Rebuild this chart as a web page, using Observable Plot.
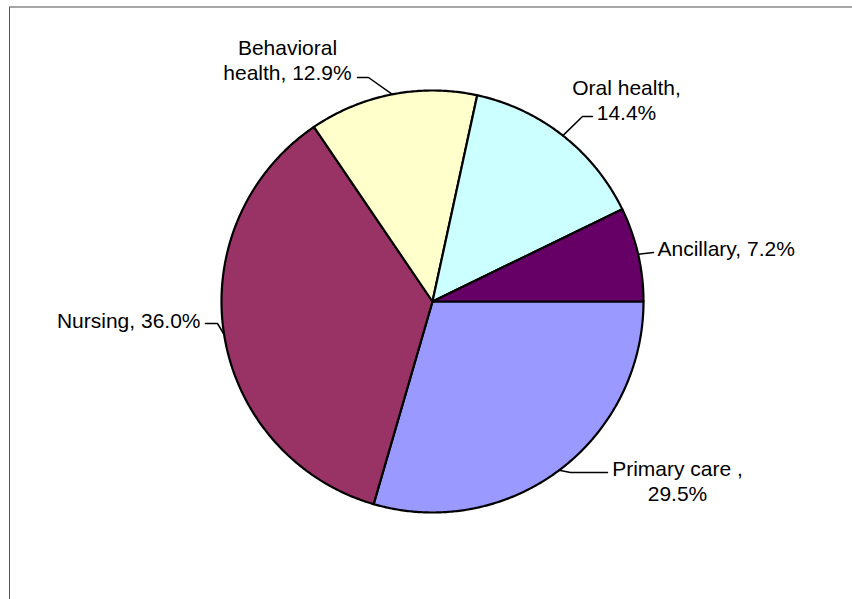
<!DOCTYPE html>
<html><head><meta charset="utf-8">
<script src="https://cdn.jsdelivr.net/npm/d3@7"></script>
<script src="https://cdn.jsdelivr.net/npm/@observablehq/plot@0.6"></script>
<style>
body{margin:0;background:#fff;}
#wrap{position:relative;width:852px;height:599px;overflow:hidden;}
#frame{position:absolute;left:9px;top:6px;right:-5px;bottom:-5px;border-top:2px solid #a6a6a6;border-left:1px solid #505050;pointer-events:none;}
</style></head><body>
<div id="wrap"><div id="frame"></div></div>
<script>
// ---- data ----
const categories = ["Primary care", "Nursing", "Behavioral health", "Oral health", "Ancillary"];
const shares = [29.5, 36.0, 12.9, 14.4, 7.2];
const labelTexts = ["Primary care ,\n29.5%", "Nursing, 36.0%", "Behavioral\nhealth, 12.9%", "Oral health,\n14.4%", "Ancillary, 7.2%"];
const colors = ["#9999FF", "#993366", "#FFFFCC", "#CCFFFF", "#660066"];

// ---- layout (pixels) ----
const W = 852, H = 599, CX = 432, CY = 301, R = 211;
const labelLayout = [
  {x: 677, y: 458, anchor: "middle", leader: [[607, 472], [570, 472]]},
  {x: 200, y: 310, anchor: "end", leader: [[205, 323], [217, 323]]},
  {x: 287, y: 37, anchor: "middle", leader: [[357, 77], [368, 77]]},
  {x: 626, y: 77, anchor: "middle", leader: [[592, 116], [582, 116]]},
  {x: 657, y: 238, anchor: "start", leader: [[653, 252]]}
];
const ux = px => (px - CX) / R;
const uy = py => (CY - py) / R;

const arcs = d3.pie().sort(null).startAngle(Math.PI / 2).endAngle(Math.PI / 2 + 2 * Math.PI)(shares);

const slicePts = [];
arcs.forEach((a, i) => {
  slicePts.push({cat: categories[i], color: colors[i], x: 0, y: 0});
  const n = Math.max(2, Math.ceil((a.endAngle - a.startAngle) / (Math.PI / 360)));
  for (let k = 0; k <= n; k++) {
    const t = a.startAngle + (a.endAngle - a.startAngle) * k / n;
    slicePts.push({cat: categories[i], color: colors[i], x: Math.sin(t), y: Math.cos(t)});
  }
});

const leaderPts = [];
arcs.forEach((a, i) => {
  const L = labelLayout[i];
  L.leader.forEach(([px, py]) => leaderPts.push({cat: categories[i], x: ux(px), y: uy(py)}));
  const m = (a.startAngle + a.endAngle) / 2;
  leaderPts.push({cat: categories[i], x: Math.sin(m), y: Math.cos(m)});
});

const labels = labelTexts.map((t, i) => ({text: t, x: ux(labelLayout[i].x), y: uy(labelLayout[i].y), anchor: labelLayout[i].anchor}));

const font = "Liberation Sans, Arial, Helvetica, sans-serif";
const textMark = anchor => Plot.text(labels.filter(d => d.anchor === anchor), {
  x: "x", y: "y", text: "text", textAnchor: anchor, lineAnchor: "top",
  fontSize: 21, lineHeight: 1.19, fill: "black"
});

const chart = Plot.plot({
  width: W, height: H, margin: 0,
  style: {fontFamily: font, background: "white"},
  x: {domain: [-CX / R, (W - CX) / R], range: [0, W], axis: null},
  y: {domain: [(CY - H) / R, CY / R], range: [H, 0], axis: null},
  marks: [
    Plot.line(slicePts, {x: "x", y: "y", z: "cat", fill: "color", stroke: "black", strokeWidth: 2.2, curve: "linear-closed", strokeLinejoin: "round"}),
    Plot.line(leaderPts, {x: "x", y: "y", z: "cat", stroke: "black", strokeWidth: 1.5}),
    textMark("middle"), textMark("start"), textMark("end")
  ]
});
const wrap = document.getElementById("wrap");
wrap.insertBefore(chart, wrap.firstChild);
</script>
</body></html>
